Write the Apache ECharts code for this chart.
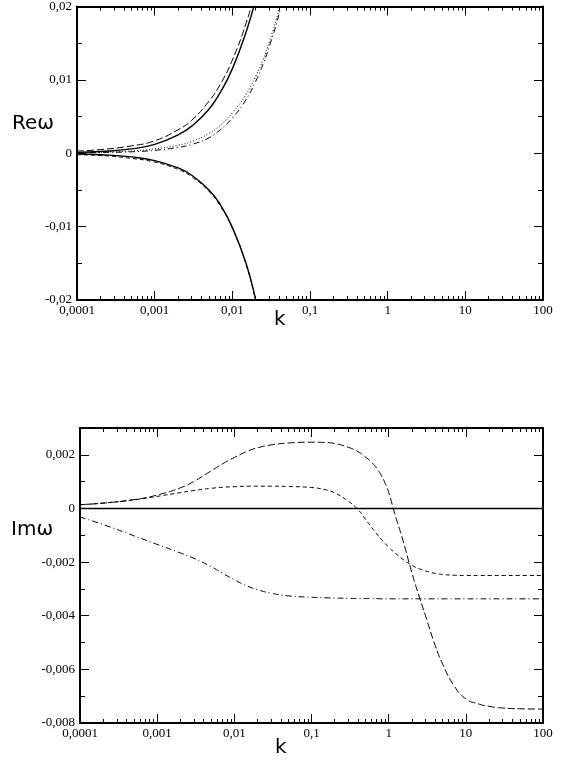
<!DOCTYPE html>
<html><head><meta charset="utf-8">
<script src="https://cdn.jsdelivr.net/npm/echarts@6/dist/echarts.min.js"></script>
<style>html,body{margin:0;padding:0;background:#fff}#c{width:566px;height:762px}</style>
</head><body><div id="c"></div>
<script>
// ---------- tick labels ----------
const xTickLabels = ['0,0001','0,001','0,01','0,1','1','10','100'];
const xMinorMultipliers = [2,3,4,5,6,7,8,9];
const xDecades = [-4,-3,-2,-1,0,1];
const reTickLabels = ['-0,02','-0,01','0','0,01','0,02'];
const imTickLabels = ['-0,008','-0,006','-0,004','-0,002','0','0,002'];

// ---------- Re(omega) panel ----------
const reK        = [0.0001, 0.0002, 0.0005, 0.001, 0.002, 0.003, 0.005, 0.007, 0.01, 0.015, 0.02, 0.025, 0.03, 0.04, 0.05];
const reSolidUp  = [0.00012, 0.00024, 0.0006, 0.0012, 0.0025, 0.0037, 0.006, 0.0083, 0.0115, 0.0165, 0.021, 0.026, 0.031, 0.041, 0.051];
const reLongDash = [0.0003, 0.0005, 0.001, 0.0017, 0.0032, 0.0045, 0.0071, 0.0094, 0.0127, 0.0177, 0.0224, 0.0275, 0.032, 0.042, 0.052];
const reDotted   = [0.0001, 0.00015, 0.0003, 0.0006, 0.0011, 0.0016, 0.0027, 0.0038, 0.0055, 0.008, 0.0105, 0.0128, 0.0152, 0.0197, 0.0245];
const reDashDot  = [0.00005, 0.0001, 0.0002, 0.0004, 0.0008, 0.0012, 0.0021, 0.0032, 0.0048, 0.0073, 0.0098, 0.0122, 0.0146, 0.019, 0.024];
const reSolidLow = [-0.0001, -0.0002, -0.0005, -0.001, -0.002, -0.003, -0.005, -0.007, -0.0101, -0.015, -0.02, -0.025, -0.03, -0.04, -0.05];
const reDashLow  = [-0.0002, -0.0003, -0.0007, -0.0012, -0.0022, -0.0032, -0.0052, -0.0072, -0.0102, -0.0151, -0.0201, -0.0251, -0.03, -0.04, -0.05];

// ---------- Im(omega) panel ----------
const imK = [0.0001, 0.0002, 0.0005, 0.001, 0.002, 0.003, 0.005, 0.007, 0.01, 0.015, 0.02, 0.03, 0.05, 0.1, 0.15, 0.2, 0.3, 0.4, 0.5, 0.6, 0.7, 0.8, 0.9, 1, 1.2, 1.5, 2, 2.5, 3, 4, 5, 7, 10, 15, 20, 30, 50, 100];
const imLongDash  = [0.00014, 0.0002, 0.00033, 0.0005, 0.00077, 0.00101, 0.0014, 0.00166, 0.0019, 0.00214, 0.00226, 0.00237, 0.00244, 0.00247, 0.00246, 0.00242, 0.00228, 0.00212, 0.00192, 0.00172, 0.0015, 0.00124, 0.00094, 0.0006, -0.0002, -0.0011, -0.0024, -0.0033, -0.004, -0.0051, -0.0058, -0.0066, -0.0071, -0.0073, -0.00738, -0.00744, -0.00747, -0.00748];
const imShortDash = [0.00014, 0.0002, 0.00032, 0.00045, 0.00059, 0.00067, 0.00075, 0.00079, 0.00081, 0.00083, 0.00083, 0.00083, 0.00082, 0.00078, 0.0007, 0.00058, 0.00027, -0.00004, -0.0004, -0.0007, -0.00095, -0.00115, -0.0013, -0.00145, -0.00165, -0.00188, -0.00212, -0.00225, -0.00233, -0.00242, -0.00246, -0.00249, -0.0025, -0.0025, -0.0025, -0.0025, -0.0025, -0.0025];
const imDashDot   = [-0.00032, -0.0006, -0.00102, -0.00134, -0.00166, -0.00186, -0.00217, -0.00241, -0.00266, -0.0029, -0.00303, -0.00316, -0.00326, -0.00331, -0.00333, -0.00334, -0.00335, -0.00336, -0.00336, -0.00336, -0.00336, -0.00337, -0.00337, -0.00337, -0.00337, -0.00337, -0.00337, -0.00337, -0.00337, -0.00337, -0.00337, -0.00337, -0.00337, -0.00337, -0.00337, -0.00337, -0.00337, -0.00337];
const imSolidK    = [0.0001, 100];
const imSolid     = [0, 0];

// ---------- build ----------
const pairs = (ks, vs) => ks.map((k, i) => [k, vs[i]]);
const minorLogPositions = [];
xDecades.forEach(d => xMinorMultipliers.forEach(m => minorLogPositions.push(d + Math.log10(m))));

const LABEL_FONT = { fontFamily: 'Liberation Serif', fontSize: 13, color: '#000' };
const BLACK = '#000';

function xAxes(gi) {
  const common = { gridIndex: gi, splitLine: { show: false }, axisPointer: { show: false } };
  return [
    Object.assign({}, common, {
      type: 'log', logBase: 10, min: 0.0001, max: 100, splitNumber: 6, position: 'bottom',
      axisLine: { show: true, onZero: false, lineStyle: { color: BLACK, width: 2 } },
      axisTick: { show: true, inside: true, length: 9, lineStyle: { color: BLACK, width: 1 } },
      axisLabel: Object.assign({ show: true, margin: 4,
        formatter: v => xTickLabels[Math.round(Math.log10(v)) + 4] }, LABEL_FONT)
    }),
    Object.assign({}, common, {
      type: 'value', min: -4, max: 2, position: 'bottom',
      axisLine: { show: false, onZero: false },
      axisTick: { show: true, inside: true, length: 4, customValues: minorLogPositions, lineStyle: { color: BLACK, width: 1 } },
      axisLabel: { show: false }
    }),
    Object.assign({}, common, {
      type: 'log', logBase: 10, min: 0.0001, max: 100, splitNumber: 6, position: 'top',
      axisLine: { show: true, onZero: false, lineStyle: { color: BLACK, width: 2 } },
      axisTick: { show: true, inside: true, length: 9, lineStyle: { color: BLACK, width: 1 } },
      axisLabel: { show: false }
    }),
    Object.assign({}, common, {
      type: 'value', min: -4, max: 2, position: 'top',
      axisLine: { show: false, onZero: false },
      axisTick: { show: true, inside: true, length: 4, customValues: minorLogPositions, lineStyle: { color: BLACK, width: 1 } },
      axisLabel: { show: false }
    })
  ];
}

function yAxes(gi, min, max, interval, labels) {
  const common = {
    gridIndex: gi, type: 'value', min: min, max: max, interval: interval,
    splitLine: { show: false },
    axisLine: { show: true, onZero: false, lineStyle: { color: BLACK, width: 2 } },
    axisTick: { show: true, inside: true, length: 9, lineStyle: { color: BLACK, width: 1 } },
    minorTick: { show: true, splitNumber: 2, length: 5, lineStyle: { color: BLACK, width: 1 } },
    axisPointer: { show: false }
  };
  return [
    Object.assign({}, common, {
      position: 'left',
      axisLabel: Object.assign({ show: true, margin: 5,
        formatter: v => {
          const idx = Math.round((v - min) / interval);
          const onTick = Math.abs(v - (min + idx * interval)) < interval * 1e-6;
          return onTick && labels[idx] !== undefined ? labels[idx] : '';
        } }, LABEL_FONT)
    }),
    Object.assign({}, common, { position: 'right', axisLabel: { show: false } })
  ];
}

function line(name, data, xi, yi, dash) {
  return {
    name: name, type: 'line', data: data, xAxisIndex: xi, yAxisIndex: yi,
    showSymbol: false, symbol: 'none', smooth: 0.5, clip: true, animation: false,
    lineStyle: { color: BLACK, width: dash ? 1 : 1.4, type: dash || 'solid' }
  };
}

const LONG = [7, 3], SHORT = [4, 3], DASHDOT = [6, 3, 1, 3], DOT = [1, 2];

const option = {
  animation: false,
  backgroundColor: '#fff',
  grid: [
    { left: 77, right: 23, top: 4, height: 296 },
    { left: 80, right: 23, top: 428, height: 295 }
  ],
  xAxis: xAxes(0).concat(xAxes(1)),
  yAxis: yAxes(0, -0.02, 0.02, 0.01, reTickLabels).concat(yAxes(1, -0.008, 0.003, 0.002, imTickLabels)),
  series: [
    line('Re solid up', pairs(reK, reSolidUp), 0, 0),
    line('Re long dash', pairs(reK, reLongDash), 0, 0, LONG),
    line('Re dotted', pairs(reK, reDotted), 0, 0, DOT),
    line('Re dash-dot', pairs(reK, reDashDot), 0, 0, DASHDOT),
    line('Re solid low', pairs(reK, reSolidLow), 0, 0),
    line('Re dash low', pairs(reK, reDashLow), 0, 0, SHORT),
    line('Im solid', pairs(imSolidK, imSolid), 4, 2),
    line('Im long dash', pairs(imK, imLongDash), 4, 2, LONG),
    line('Im short dash', pairs(imK, imShortDash), 4, 2, SHORT),
    line('Im dash-dot', pairs(imK, imDashDot), 4, 2, DASHDOT)
  ],
  graphic: [
    { type: 'text', left: 12, top: 114, style: { text: 'Reω', font: '20px "DejaVu Sans"', fill: BLACK } },
    { type: 'text', left: 274, top: 310, style: { text: 'k', font: '20px "DejaVu Sans"', fill: BLACK } },
    { type: 'text', left: 11, top: 520, style: { text: 'Imω', font: '20px "DejaVu Sans"', fill: BLACK } },
    { type: 'text', left: 275, top: 738, style: { text: 'k', font: '20px "DejaVu Sans"', fill: BLACK } }
  ]
};

const chart = echarts.init(document.getElementById('c'), null, { renderer: 'canvas' });
chart.setOption(option);
</script>
</body></html>
